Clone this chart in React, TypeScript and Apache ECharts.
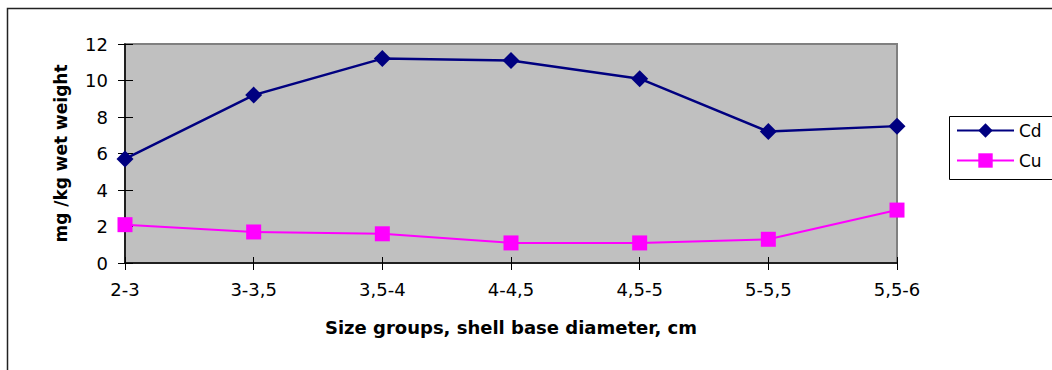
import React, { useEffect, useRef } from "react";
import * as echarts from "echarts";

const sizeGroups = ["2-3", "3-3,5", "3,5-4", "4-4,5", "4,5-5", "5-5,5", "5,5-6"];
const cdValues = [5.7, 9.2, 11.2, 11.1, 10.1, 7.2, 7.5];
const cuValues = [2.1, 1.7, 1.6, 1.1, 1.1, 1.3, 2.9];
const yTicks = { min: 0, max: 12, interval: 2 };

const FONT = "'DejaVu Sans', Verdana, sans-serif";

export default function App() {
  const ref = useRef<HTMLDivElement>(null);

  useEffect(() => {
    if (!ref.current) return;
    const chart = echarts.init(ref.current, null, { renderer: "svg" });
    chart.setOption({
      animation: false,
      backgroundColor: "#ffffff",
      textStyle: { fontFamily: FONT },
      grid: {
        left: 125,
        right: 155,
        top: 44,
        bottom: 107,
        show: true,
        backgroundColor: "#C0C0C0",
        borderColor: "#808080",
        borderWidth: 2,
      },
      legend: {
        orient: "vertical",
        left: 956,
        top: 122,
        padding: 0,
        itemWidth: 57,
        itemHeight: 18,
        itemGap: 13,
        textStyle: { fontFamily: FONT, fontSize: 17, color: "#000" },
        data: ["Cd", "Cu"],
      },
      graphic: [
        {
          type: "rect",
          shape: { x: 7.5, y: 8.5, width: 1200, height: 500 },
          style: { fill: "none", stroke: "#222", lineWidth: 1.5 },
          silent: true,
        },
        {
          type: "rect",
          shape: { x: 949.5, y: 116.5, width: 200, height: 63 },
          style: { fill: "none", stroke: "#000", lineWidth: 1 },
          silent: true,
        },
      ],
      xAxis: [
        {
          type: "category",
          data: sizeGroups,
          boundaryGap: false,
          axisLine: { lineStyle: { color: "#000", width: 1.5 } },
          axisTick: { show: true, length: 7, lineStyle: { color: "#000" } },
          axisLabel: { fontFamily: FONT, fontSize: 18, color: "#000", margin: 17 },
          name: "Size groups, shell base diameter, cm",
          nameLocation: "middle",
          nameGap: 55,
          nameTextStyle: { fontFamily: FONT, fontSize: 18, fontWeight: "bold", color: "#000" },
          splitLine: { show: false },
        },
        {
          type: "category",
          data: sizeGroups,
          boundaryGap: false,
          position: "bottom",
          axisLine: { show: false },
          axisTick: { show: true, inside: true, length: 6, lineStyle: { color: "#000" } },
          axisLabel: { show: false },
          splitLine: { show: false },
        },
      ],
      yAxis: [
        {
          type: "value",
          min: yTicks.min,
          max: yTicks.max,
          interval: yTicks.interval,
          axisLine: { show: true, lineStyle: { color: "#000", width: 1.5 } },
          axisTick: { show: true, length: 7, lineStyle: { color: "#000" } },
          axisLabel: { fontFamily: FONT, fontSize: 18, color: "#000", margin: 17 },
          splitLine: { show: false },
          name: "mg /kg wet weight",
          nameLocation: "middle",
          nameGap: 56,
          nameTextStyle: { fontFamily: FONT, fontSize: 17, fontWeight: "bold", color: "#000" },
        },
        {
          type: "value",
          min: yTicks.min,
          max: yTicks.max,
          interval: yTicks.interval,
          position: "left",
          axisLine: { show: false },
          axisTick: { show: true, inside: true, length: 8, lineStyle: { color: "#000" } },
          axisLabel: { show: false },
          splitLine: { show: false },
        },
      ],
      series: [
        {
          name: "Cd",
          type: "line",
          data: cdValues,
          symbol: "diamond",
          symbolSize: 17,
          lineStyle: { color: "#000080", width: 2.5 },
          itemStyle: { color: "#000080" },
        },
        {
          name: "Cu",
          type: "line",
          data: cuValues,
          symbol: "rect",
          symbolSize: 15,
          lineStyle: { color: "#FF00FF", width: 2 },
          itemStyle: { color: "#FF00FF" },
        },
      ],
    });
    return () => chart.dispose();
  }, []);

  return (
    <div
      ref={ref}
      style={{ position: "fixed", left: 0, top: 0, width: 1052, height: 370 }}
    />
  );
}
